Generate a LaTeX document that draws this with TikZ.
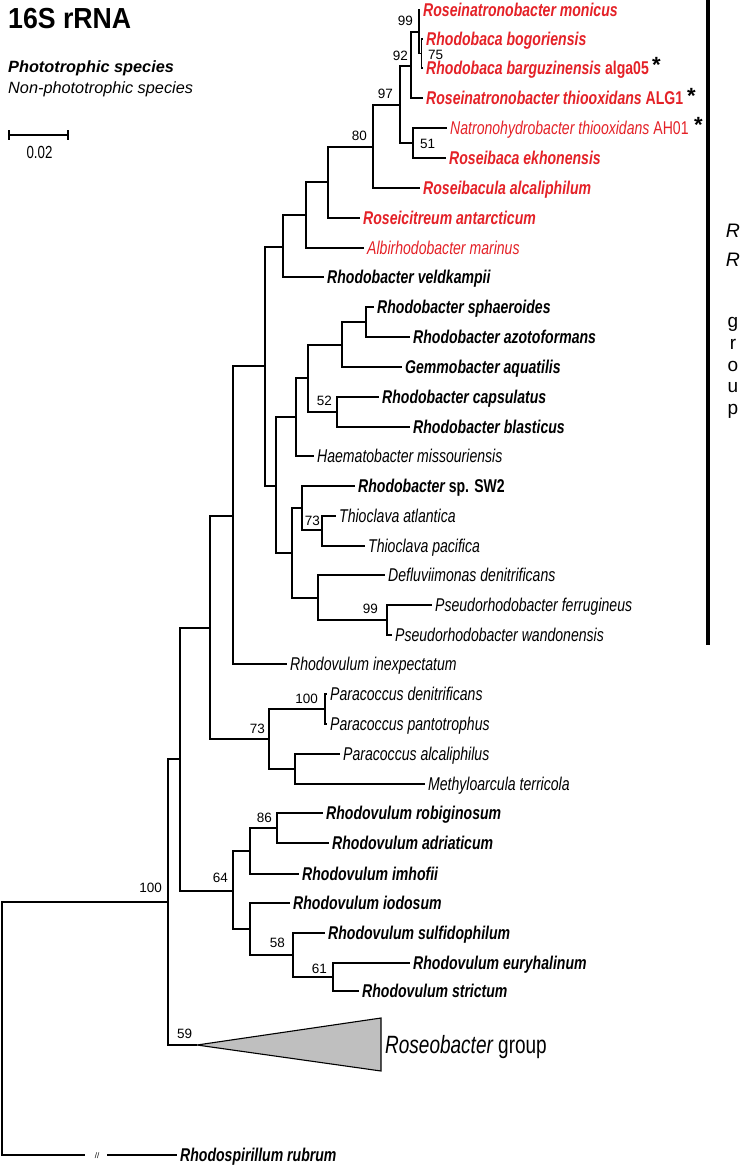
\documentclass[tikz,border=0pt]{standalone}
\usepackage{fontspec}
\setmainfont{Liberation Sans}
\newfontfamily\leaffont[FakeStretch=0.76]{Liberation Sans}
\newfontfamily\titlefont[FakeStretch=0.92]{Liberation Sans}
\definecolor{rrred}{RGB}{228,33,39}
\newcommand\lfont{\leaffont\fontsize{18.5}{20}\selectfont}
\newcommand\bsfont{\fontsize{13.5}{15}\selectfont}
\begin{document}
\begin{tikzpicture}[x=1pt,y=-1pt,
 branch/.style={line width=1.1pt},
 leaf/.style={anchor=west,inner xsep=3pt,inner ysep=0pt,text height=13pt,text depth=0pt},
 lb/.style={leaf,font=\lfont\bfseries\itshape},
 li/.style={leaf,font=\lfont\itshape},
 lbm/.style={leaf,font=\lfont\bfseries},
 lrb/.style={lb,text=rrred},
 lri/.style={li,text=rrred},
 lrbm/.style={lbm,text=rrred},
 lrim/.style={leaf,font=\lfont,text=rrred},
 bs/.style={inner sep=0pt,font=\bsfont},
 bsl/.style={bs,anchor=base east},
 bsr/.style={bs,anchor=base west},
 star/.style={inner sep=0pt,anchor=base,font=\fontsize{22}{24}\selectfont\bfseries},
 grp/.style={inner sep=0pt,anchor=base,font=\fontsize{19}{21}\selectfont}
]
\path[use as bounding box] (0,0) rectangle (742,1167);

% title and legend
\node[anchor=base west,inner sep=0pt,font=\titlefont\fontsize{29}{32}\selectfont\bfseries] (title) at (8,28) {16S rRNA};
\node[anchor=base west,inner sep=0pt,font=\fontsize{16.3}{18}\selectfont\bfseries\itshape] (photo) at (8,72) {Phototrophic species};
\node[anchor=base west,inner sep=0pt,font=\fontsize{16.3}{18}\selectfont\itshape] (nonphoto) at (8,93.5) {Non-phototrophic species};

% scale bar
\draw[branch] (9,135) -- (68,135);
\draw[branch] (9,130) -- (9,140);
\draw[branch] (68,130) -- (68,140);
\node[anchor=base,inner sep=0pt,font=\leaffont\fontsize{17.5}{19}\selectfont] (scale) at (39.5,158) {0.02};

% RR group bar
\fill (706,0) rectangle (710,645);
\node[grp,font=\fontsize{19.5}{21}\selectfont\itshape] (g1) at (733,237) {R};
\node[grp,font=\fontsize{19.5}{21}\selectfont\itshape] (g2) at (733,266) {R};
\node[grp] (g3) at (733,327) {g};
\node[grp] (g4) at (733,349) {r};
\node[grp] (g5) at (733,371) {o};
\node[grp] (g6) at (733,392) {u};
\node[grp] (g7) at (733,414) {p};

% internal nodes
\coordinate (n99) at (419,32);
\coordinate (n75) at (421.5,53.5);
\coordinate (n92) at (411,66);
\coordinate (n51) at (413,143);
\coordinate (n97) at (400,105);
\coordinate (n80) at (373,147);
\coordinate (nA) at (328,182);
\coordinate (nB) at (306,215);
\coordinate (nC) at (283,247);
\coordinate (nI) at (366,322);
\coordinate (nH) at (342,345);
\coordinate (n52) at (337,412);
\coordinate (nG) at (308,378);
\coordinate (nF) at (296,417);
\coordinate (n73a) at (322,530);
\coordinate (nK) at (302,508);
\coordinate (n99b) at (387,620);
\coordinate (nL) at (318,598);
\coordinate (nJ) at (292,553);
\coordinate (nE) at (276,486);
\coordinate (nD) at (265,366);
\coordinate (nM) at (233,516);
\coordinate (n100b) at (325,709);
\coordinate (nO) at (295,769);
\coordinate (n73b) at (269,739);
\coordinate (nN) at (210,628);
\coordinate (n86) at (277,828);
\coordinate (nR) at (250,851);
\coordinate (n61) at (333,977);
\coordinate (n58) at (293,955);
\coordinate (nS) at (250,929);
\coordinate (n64) at (233,891);
\coordinate (nP) at (180,759);
\coordinate (apex) at (197,1045);
\coordinate (nQ) at (168,902);
\coordinate (root) at (2,1028);
\coordinate (brkA) at (85,1155);
\coordinate (brkB) at (107,1155);

% leaves
\node[lrb] (monicus) at (420,10) {Roseinatronobacter monicus};
\node[lrb] (bogor) at (423,39) {Rhodobaca bogoriensis};
\node[lrbm] (bargu) at (423,68) {{\itshape Rhodobaca barguzinensis} alga05};
\node[lrbm] (alg1) at (423,98) {{\itshape Roseinatronobacter thiooxidans} ALG1};
\node[lrim] (natrono) at (447,128) {{\itshape Natronohydrobacter thiooxidans} AH01};
\node[lrb] (ekhon) at (446,158) {Roseibaca ekhonensis};
\node[lrb] (rbacula) at (420,188) {Roseibacula alcaliphilum};
\node[lrb] (rcitr) at (360,218) {Roseicitreum antarcticum};
\node[lri] (albir) at (364,248) {Albirhodobacter marinus};
\node[lb] (veld) at (324,277) {Rhodobacter veldkampii};
\node[lb] (sphae) at (374,307) {Rhodobacter sphaeroides};
\node[lb] (azoto) at (410,337) {Rhodobacter azotoformans};
\node[lb] (gemmo) at (402,367) {Gemmobacter aquatilis};
\node[lb] (capsu) at (379,397) {Rhodobacter capsulatus};
\node[lb] (blast) at (410,427) {Rhodobacter blasticus};
\node[li] (haema) at (314,456) {Haematobacter missouriensis};
\node[lbm] (sw2) at (355,486) {{\itshape Rhodobacter} sp. SW2};
\node[li] (atlan) at (336,516) {Thioclava atlantica};
\node[li] (pacif) at (365,546) {Thioclava pacifica};
\node[li] (deflu) at (385,575) {Defluviimonas denitrificans};
\node[li] (ferru) at (432,605) {Pseudorhodobacter ferrugineus};
\node[li] (wando) at (392,635) {Pseudorhodobacter wandonensis};
\node[li] (inexp) at (287,664) {Rhodovulum inexpectatum};
\node[li] (denit) at (327,694) {Paracoccus denitrificans};
\node[li] (panto) at (327,724) {Paracoccus pantotrophus};
\node[li] (alcal) at (340,754) {Paracoccus alcaliphilus};
\node[li] (methy) at (425,784) {Methyloarcula terricola};
\node[lb] (robig) at (323,813) {Rhodovulum robiginosum};
\node[lb] (adria) at (329,843) {Rhodovulum adriaticum};
\node[lb] (imhof) at (299,874) {Rhodovulum imhofii};
\node[lb] (iodos) at (290,903) {Rhodovulum iodosum};
\node[lb] (sulfi) at (325,933) {Rhodovulum sulfidophilum};
\node[lb] (euryh) at (410,963) {Rhodovulum euryhalinum};
\node[lb] (stric) at (359,991) {Rhodovulum strictum};
\node[lb] (rubrum) at (177,1155) {Rhodospirillum rubrum};

% asterisks
\node[star] (st1) at (656.5,72.8) {*};
\node[star] (st2) at (691.5,103.3) {*};
\node[star] (st3) at (698.5,132.3) {*};

% branches
\draw[branch] (n99) |- (monicus.west);
\draw[branch] (n99) |- (n75);
\draw[branch] (n75) |- (bogor.west);
\draw[branch] (n75) |- (bargu.west);
\draw[branch] (n92) |- (n99);
\draw[branch] (n92) |- (alg1.west);
\draw[branch] (n51) |- (natrono.west);
\draw[branch] (n51) |- (ekhon.west);
\draw[branch] (n97) |- (n92);
\draw[branch] (n97) |- (n51);
\draw[branch] (n80) |- (n97);
\draw[branch] (n80) |- (rbacula.west);
\draw[branch] (nA) |- (n80);
\draw[branch] (nA) |- (rcitr.west);
\draw[branch] (nB) |- (nA);
\draw[branch] (nB) |- (albir.west);
\draw[branch] (nC) |- (nB);
\draw[branch] (nC) |- (veld.west);
\draw[branch] (nI) |- (sphae.west);
\draw[branch] (nI) |- (azoto.west);
\draw[branch] (nH) |- (nI);
\draw[branch] (nH) |- (gemmo.west);
\draw[branch] (n52) |- (capsu.west);
\draw[branch] (n52) |- (blast.west);
\draw[branch] (nG) |- (nH);
\draw[branch] (nG) |- (n52);
\draw[branch] (nF) |- (nG);
\draw[branch] (nF) |- (haema.west);
\draw[branch] (n73a) |- (atlan.west);
\draw[branch] (n73a) |- (pacif.west);
\draw[branch] (nK) |- (sw2.west);
\draw[branch] (nK) |- (n73a);
\draw[branch] (n99b) |- (ferru.west);
\draw[branch] (n99b) |- (wando.west);
\draw[branch] (nL) |- (deflu.west);
\draw[branch] (nL) |- (n99b);
\draw[branch] (nJ) |- (nK);
\draw[branch] (nJ) |- (nL);
\draw[branch] (nE) |- (nF);
\draw[branch] (nE) |- (nJ);
\draw[branch] (nD) |- (nC);
\draw[branch] (nD) |- (nE);
\draw[branch] (nM) |- (nD);
\draw[branch] (nM) |- (inexp.west);
\draw[branch] (n100b) |- (denit.west);
\draw[branch] (n100b) |- (panto.west);
\draw[branch] (nO) |- (alcal.west);
\draw[branch] (nO) |- (methy.west);
\draw[branch] (n73b) |- (n100b);
\draw[branch] (n73b) |- (nO);
\draw[branch] (nN) |- (nM);
\draw[branch] (nN) |- (n73b);
\draw[branch] (n86) |- (robig.west);
\draw[branch] (n86) |- (adria.west);
\draw[branch] (nR) |- (n86);
\draw[branch] (nR) |- (imhof.west);
\draw[branch] (n61) |- (euryh.west);
\draw[branch,line width=1.7pt] (n61) |- (stric.west);
\draw[branch] (n58) |- (sulfi.west);
\draw[branch] (n58) |- (n61);
\draw[branch] (nS) |- (iodos.west);
\draw[branch] (nS) |- (n58);
\draw[branch] (n64) |- (nR);
\draw[branch] (n64) |- (nS);
\draw[branch] (nP) |- (nN);
\draw[branch] (nP) |- (n64);
\draw[branch] (nQ) |- (nP);
\draw[branch] (nQ) |- (apex);
\draw[branch] (root) |- (nQ);
\draw[branch] (root) |- (brkA);
\node[inner sep=0pt,font=\fontsize{8}{9}\selectfont] (brk) at (97,1155.5) {//};
\draw[branch] (brkB) -- (rubrum.west);

% collapsed Roseobacter group
\draw[branch,fill=gray!50] (apex) -- (381,1018) -- (381,1071) -- cycle;
\node[anchor=base west,inner sep=0pt,font=\leaffont\fontsize{25}{28}\selectfont] (roseo) at (385,1053) {{\itshape Roseobacter} group};

% bootstrap values
\node[bsl] (b99) at (413,25) {99};
\node[bsr] (b75) at (428,59) {75};
\node[bsl] (b92) at (408,60) {92};
\node[bsl] (b97) at (393,98) {97};
\node[bsl] (b80) at (367,140) {80};
\node[bsr] (b51) at (420,148) {51};
\node[bsl] (b52) at (332,405) {52};
\node[bsl] (b73a) at (320,525) {73};
\node[bsl] (b99b) at (378,613) {99};
\node[bsl] (b100b) at (318,703) {100};
\node[bsl] (b73b) at (265,733) {73};
\node[bsl] (b86) at (272,822) {86};
\node[bsl] (b64) at (228,882) {64};
\node[bsl] (b100) at (162,892) {100};
\node[bsl] (b58) at (285,947) {58};
\node[bsl] (b61) at (327,973) {61};
\node[bsr] (b59) at (177,1038) {59};
\end{tikzpicture}
\end{document}
